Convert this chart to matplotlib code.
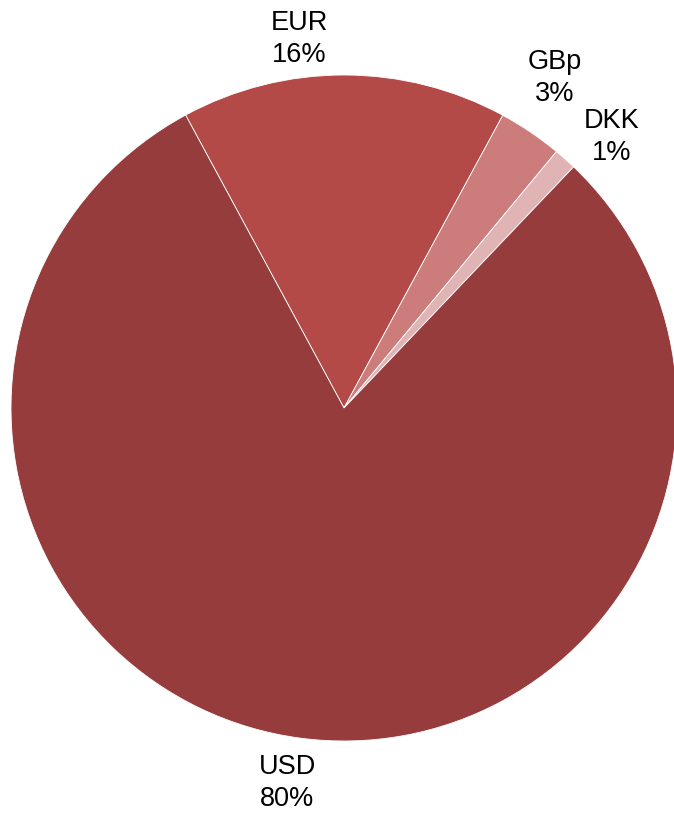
import numpy as np
import matplotlib.pyplot as plt

plt.rcParams['font.family'] = ['Liberation Sans', 'DejaVu Sans']

currencies = ["EUR", "GBp", "DKK", "USD"]
shares = [15.8, 3.1, 1.1, 80.0]
colors = ["#B34A48", "#CC7C7A", "#E0B4B4", "#963C3C"]

fig = plt.figure(figsize=(6.74, 8.13), dpi=100)
ax = fig.add_axes([0, 0, 1, 1])

labels = [f"{c}\n{round(s):.0f}%" for c, s in zip(currencies, shares)]
wedges, texts = ax.pie(shares, colors=colors, labels=labels, startangle=118.4,
                       counterclock=False, center=(344, 405), radius=333,
                       labeldistance=1.14, frame=True,
                       wedgeprops=dict(edgecolor='white', linewidth=0.6),
                       textprops=dict(fontsize=19.5, color='black', linespacing=1.3))
ax.set_xlim(0, 674)
ax.set_ylim(0, 813)
ax.set_aspect('equal')
ax.axis('off')

# nudge labels to match the reference layout
shift = {"EUR": (7, 1.115), "GBp": (1.5, 1.175), "DKK": (-3, 1.145), "USD": (-1, 1.14)}
for w, t, c in zip(wedges, texts, currencies):
    mid = np.deg2rad((w.theta1 + w.theta2) / 2 + shift[c][0])
    d = 333 * shift[c][1]
    t.set_position((344 + d * np.cos(mid), 405 + d * np.sin(mid)))
    t.set_ha('center')
    t.set_va('center')

fig.savefig("out.png", dpi=100)
